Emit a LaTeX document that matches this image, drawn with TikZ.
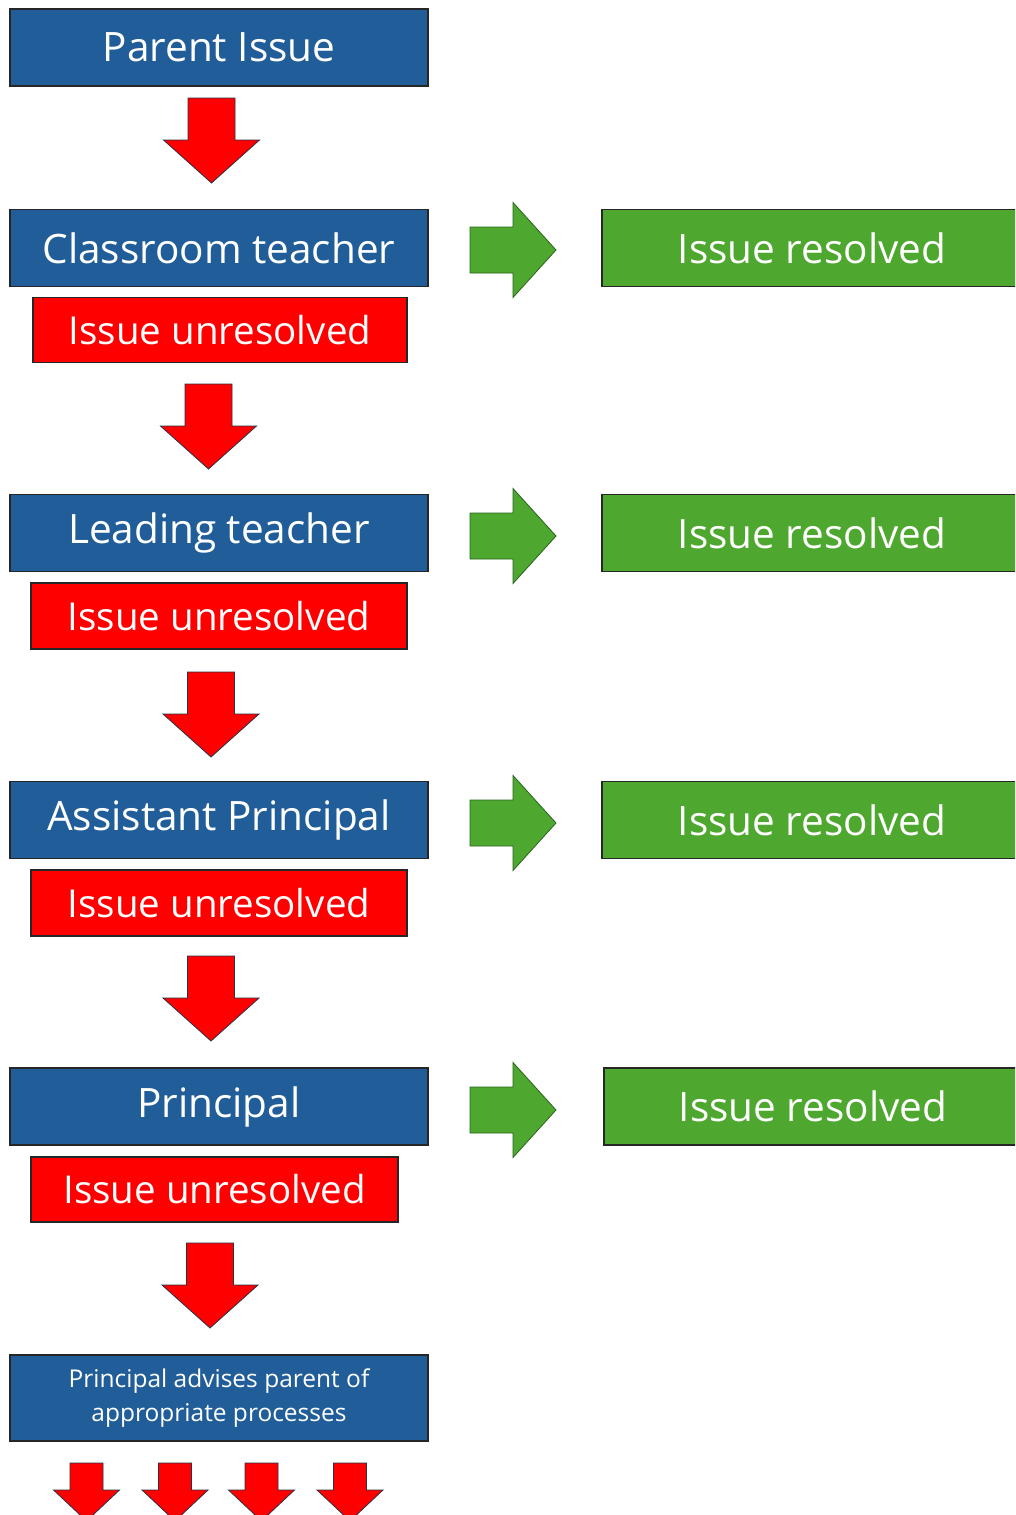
\documentclass[tikz,border=0pt]{standalone}
\usepackage{fontspec}
\setmainfont{Open Sans}
\definecolor{boxblue}{RGB}{33,94,153}
\definecolor{boxred}{RGB}{255,0,0}
\definecolor{boxgreen}{RGB}{78,167,46}
\definecolor{arrline}{RGB}{40,50,70}
\definecolor{garrline}{RGB}{40,100,30}
\tikzset{
  base/.style={draw=black!85, line width=1.6pt, inner sep=0pt, text=white, align=center},
  bluebox/.style={base, fill=boxblue, minimum width=418pt, minimum height=77pt, font=\fontsize{40.5}{44}\selectfont},
  redbox/.style={base, fill=boxred, minimum height=65pt, font=\fontsize{38.5}{42}\selectfont},
  greenbox/.style={base, fill=boxgreen, minimum height=77pt, font=\fontsize{40.5}{44}\selectfont},
  smallblue/.style={base, fill=boxblue, minimum width=418pt, minimum height=86pt, font=\fontsize{24.5}{34}\selectfont},
  downarr/.pic={\draw[fill=boxred, draw=arrline, line width=0.8pt]
     (-23.5,0) -- (23.5,0) -- (23.5,42) -- (48,42) -- (0,85) -- (-48,42) -- (-23.5,42) -- cycle;},
  smalldown/.pic={\draw[fill=boxred, draw=arrline, line width=0.8pt]
     (-16.5,0) -- (16.5,0) -- (16.5,27) -- (33,27) -- (0,58) -- (-33,27) -- (-16.5,27) -- cycle;},
  rightarr/.pic={\draw[fill=boxgreen, draw=garrline, line width=0.8pt]
     (0,-23) -- (43,-23) -- (43,-47.5) -- (86,0) -- (43,47.5) -- (43,23) -- (0,23) -- cycle;}
}
\begin{document}
\begin{tikzpicture}[x=1pt,y=-1pt]
\useasboundingbox (0,0) rectangle (1015,1515);
\begin{scope}
\clip (0,0) rectangle (1015,1515);
% blue boxes
\node[bluebox] (parent) at (219,47.5) {Parent Issue};
\node[bluebox] (ct) at (219,248) {Classroom teacher};
\node[bluebox] (lt) at (219,533) {Leading teacher};
\node[bluebox] (ap) at (219,820) {Assistant Principal};
\node[bluebox] (pr) at (219,1106.5) {Principal};
\node[smallblue] (adv) at (219,1398) {Principal advises parent of\\appropriate processes};
% red boxes
\node[redbox, minimum width=374pt] (u1) at (220,330) {Issue unresolved};
\node[redbox, minimum width=376pt, minimum height=66pt] (u2) at (219,616) {Issue unresolved};
\node[redbox, minimum width=376pt, minimum height=66pt] (u3) at (219,903) {Issue unresolved};
\node[redbox, minimum width=367pt] (u4) at (214.5,1189.5) {Issue unresolved};
% green boxes
\node[greenbox, minimum width=420pt] (r1) at (812,248) {Issue resolved};
\node[greenbox, minimum width=420pt] (r2) at (812,533) {Issue resolved};
\node[greenbox, minimum width=420pt] (r3) at (812,820) {Issue resolved};
\node[greenbox, minimum width=418pt] (r4) at (813,1106.5) {Issue resolved};
% down arrows
\pic at (211.5,98) {downarr};
\pic at (208.5,384) {downarr};
\pic at (211,672) {downarr};
\pic at (211,956) {downarr};
\pic at (210,1243) {downarr};
% small arrows
\pic at (86.5,1463) {smalldown};
\pic at (175,1463) {smalldown};
\pic at (261.5,1463) {smalldown};
\pic at (350,1463) {smalldown};
% right arrows
\pic at (470,250) {rightarr};
\pic at (470,536) {rightarr};
\pic at (470,823) {rightarr};
\pic at (470,1110) {rightarr};
\end{scope}
\end{tikzpicture}
\end{document}
